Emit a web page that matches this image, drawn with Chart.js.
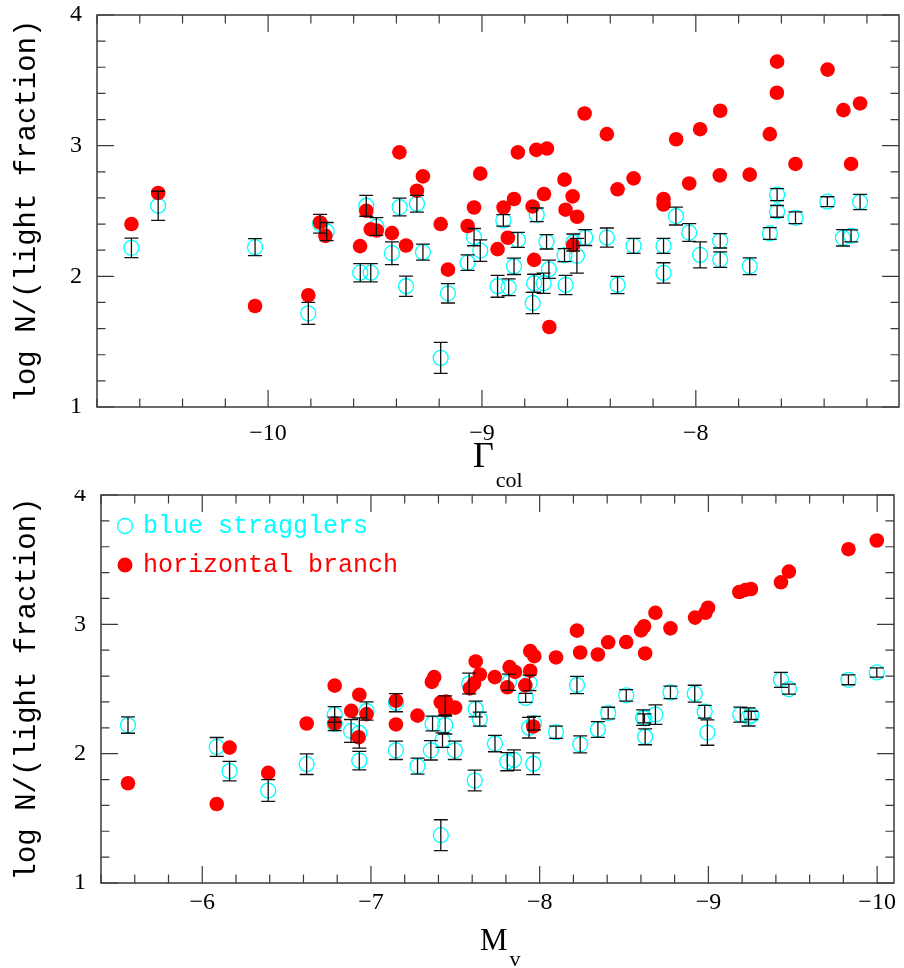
<!DOCTYPE html>
<html>
<head>
<meta charset="utf-8">
<script src="https://cdn.jsdelivr.net/npm/chart.js@4.4.1/dist/chart.umd.min.js"></script>
<style>
  body { margin: 0; background: #fff; }
  .panel { position: relative; width: 904px; }
  #topPanel { height: 490px; }
  #bottomPanel { height: 478px; }
</style>
</head>
<body>
<div class="panel" id="topPanel"><canvas id="gammaChart"></canvas></div>
<div class="panel" id="bottomPanel"><canvas id="mvChart"></canvas></div>
<script>
// ---- top panel: Gamma_col ----
const gammaBssX = [-10.639, -10.514, -10.061, -9.812, -9.757, -9.726, -9.541, -9.494, -9.569, -9.520,
  -9.421, -9.385, -9.304, -9.355, -9.276, -9.159, -9.193, -9.067, -9.037, -9.008,
  -8.927, -8.900, -8.875, -8.832, -8.850, -8.744, -8.756, -8.763, -8.712, -8.687,
  -8.698, -8.614, -8.609, -8.573, -8.556, -8.517, -8.416, -8.366, -8.291, -8.151,
  -8.151, -8.093, -8.031, -7.980, -7.886, -7.886, -7.748, -7.654, -7.620, -7.620,
  -7.534, -7.385, -7.232, -7.312, -7.274];
const gammaBssY = [2.218, 2.540, 2.223, 1.717, 2.402, 2.343, 2.540, 2.381, 2.028, 2.028,
  2.177, 2.530, 2.556, 1.924, 2.185, 1.870, 1.376, 2.105, 2.300, 2.197,
  1.924, 2.428, 1.916, 2.279, 2.077, 2.471, 1.947, 1.796, 1.947, 2.054,
  2.264, 2.162, 1.934, 2.259, 2.157, 2.297, 2.297, 1.934, 2.233, 2.233,
  2.026, 2.461, 2.335, 2.164, 2.272, 2.128, 2.077, 2.328, 2.625, 2.497,
  2.448, 2.571, 2.569, 2.295, 2.310];
const gammaBssErr = [0.075, 0.111, 0.065, 0.084, 0.072, 0.069, 0.080, 0.068, 0.070, 0.070,
  0.087, 0.068, 0.064, 0.078, 0.061, 0.074, 0.119, 0.059, 0.066, 0.082,
  0.084, 0.044, 0.064, 0.058, 0.063, 0.052, 0.069, 0.081, 0.078, 0.070,
  0.055, 0.050, 0.074, 0.065, 0.133, 0.061, 0.073, 0.066, 0.058, 0.058,
  0.078, 0.068, 0.068, 0.100, 0.055, 0.059, 0.064, 0.045, 0.046, 0.045,
  0.045, 0.038, 0.058, 0.063, 0.046];
const gammaHbX = [-10.639, -10.514, -10.061, -9.812, -9.757, -9.732, -9.541, -9.520, -9.492, -9.570,
  -9.421, -9.355, -9.386, -9.276, -9.304, -9.193, -9.159, -9.067, -9.037, -9.008,
  -8.927, -8.899, -8.879, -8.850, -8.832, -8.763, -8.756, -8.746, -8.696, -8.710,
  -8.685, -8.614, -8.609, -8.576, -8.555, -8.574, -8.520, -8.416, -8.366, -8.291,
  -8.151, -8.151, -8.092, -8.031, -7.980, -7.886, -7.888, -7.748, -7.654, -7.620,
  -7.621, -7.534, -7.384, -7.310, -7.232, -7.274];
const gammaHbY = [2.400, 2.638, 1.773, 1.855, 2.412, 2.310, 2.502, 2.359, 2.351, 2.231,
  2.331, 2.236, 2.949, 2.765, 2.655, 2.400, 2.051, 2.385, 2.527, 2.786,
  2.208, 2.527, 2.295, 2.592, 2.949, 2.535, 2.126, 2.968, 2.978, 2.630,
  1.612, 2.740, 2.510, 2.612, 2.456, 2.239, 3.246, 3.088, 2.666, 2.750,
  2.592, 2.550, 3.049, 2.711, 3.126, 3.267, 2.773, 2.778, 3.088, 3.643,
  3.405, 2.860, 3.582, 3.272, 3.323, 2.860];

// ---- bottom panel: M_V ----
const mvBssX = [-5.560, -6.086, -6.162, -6.391, -6.619, -6.785, -6.785, -6.882, -6.931, -6.931,
  -6.974, -7.148, -7.148, -7.276, -7.365, -7.355, -7.440, -7.424, -7.440, -7.497,
  -7.414, -7.582, -7.621, -7.645, -7.615, -7.735, -7.808, -7.848, -7.818, -7.917,
  -7.940, -7.937, -7.966, -7.962, -8.097, -8.221, -8.240, -8.345, -8.406, -8.513,
  -8.613, -8.621, -8.686, -8.625, -8.775, -8.919, -8.978, -8.994, -9.189, -9.238,
  -9.254, -9.430, -9.477, -9.830, -9.998];
const mvBssY = [2.221, 2.052, 1.865, 1.715, 1.919, 2.303, 2.230, 2.176, 2.160, 1.946,
  2.330, 2.026, 2.394, 1.904, 2.233, 2.026, 2.221, 2.104, 2.373, 2.026,
  1.370, 2.542, 2.345, 2.267, 1.792, 2.078, 1.938, 1.951, 2.552, 2.431,
  2.547, 2.201, 2.236, 1.922, 2.166, 2.531, 2.072, 2.187, 2.314, 2.451,
  2.278, 2.273, 2.302, 2.130, 2.474, 2.464, 2.324, 2.163, 2.302, 2.284,
  2.296, 2.571, 2.499, 2.571, 2.628];
const mvBssErr = [0.063, 0.073, 0.075, 0.084, 0.080, 0.060, 0.052, 0.088, 0.117, 0.071,
  0.070, 0.071, 0.070, 0.062, 0.057, 0.075, 0.069, 0.056, 0.074, 0.071,
  0.119, 0.080, 0.061, 0.054, 0.080, 0.063, 0.070, 0.078, 0.063, 0.035,
  0.060, 0.080, 0.053, 0.084, 0.047, 0.067, 0.066, 0.061, 0.045, 0.044,
  0.060, 0.035, 0.075, 0.061, 0.049, 0.065, 0.049, 0.098, 0.058, 0.070,
  0.032, 0.058, 0.039, 0.038, 0.036];
const mvHbX = [-5.560, -6.086, -6.162, -6.391, -6.619, -6.785, -6.785, -6.883, -6.931, -6.927,
  -6.974, -7.148, -7.148, -7.276, -7.361, -7.375, -7.414, -7.444, -7.440, -7.499,
  -7.621, -7.645, -7.611, -7.586, -7.734, -7.822, -7.854, -7.808, -7.944, -7.968,
  -7.944, -7.915, -7.962, -8.097, -8.221, -8.240, -8.345, -8.406, -8.513, -8.601,
  -8.619, -8.625, -8.686, -8.775, -8.921, -8.982, -8.998, -9.183, -9.219, -9.252,
  -9.430, -9.477, -9.830, -9.998];
const mvHbY = [1.771, 1.611, 2.047, 1.852, 2.233, 2.526, 2.233, 2.331, 2.456, 2.127,
  2.306, 2.409, 2.226, 2.294, 2.555, 2.592, 2.397, 2.402, 2.337, 2.356,
  2.713, 2.612, 2.542, 2.505, 2.592, 2.669, 2.632, 2.513, 2.793, 2.754,
  2.640, 2.528, 2.210, 2.744, 2.951, 2.782, 2.767, 2.861, 2.863, 2.953,
  2.985, 2.775, 3.089, 2.969, 3.052, 3.089, 3.128, 3.250, 3.266, 3.273,
  3.325, 3.408, 3.581, 3.648];

const yTicks = [1, 2, 3, 4];
const gammaTicks = [-10, -9, -8];
const mvTicks = [-6, -7, -8, -9, -10];
const legendLabels = ["blue stragglers", "horizontal branch"];
const yTitle = "log N/(light fraction)";

const BSS_COLOR = "#00ffff";
const HB_COLOR = "#ff0000";
const FRAME_COLOR = "#3a3a3a";

function toPoints(xs, ys) {
  return xs.map((x, i) => ({ x: x, y: ys[i] }));
}

function minus(v) {
  return v < 0 ? "\u2212" + Math.abs(v) : String(v);
}

// box with inward major/minor ticks on all four sides
const framePlugin = {
  id: "frame",
  afterDatasetsDraw(chart) {
    const { ctx, chartArea: a, scales } = chart;
    ctx.save();
    ctx.strokeStyle = FRAME_COLOR;
    ctx.lineWidth = 1.5;
    ctx.strokeRect(a.left, a.top, a.right - a.left, a.bottom - a.top);
    ctx.lineWidth = 1.2;
    ctx.beginPath();
    const xs = scales.x;
    for (let k = Math.ceil(xs.min * 5 - 1e-6); k <= Math.floor(xs.max * 5 + 1e-6); k++) {
      const px = xs.getPixelForValue(k / 5);
      const len = k % 5 === 0 ? 17 : 8.5;
      ctx.moveTo(px, a.bottom); ctx.lineTo(px, a.bottom - len);
      ctx.moveTo(px, a.top); ctx.lineTo(px, a.top + len);
    }
    const ys = scales.y;
    for (let k = Math.ceil(ys.min * 5 - 1e-6); k <= Math.floor(ys.max * 5 + 1e-6); k++) {
      const py = ys.getPixelForValue(k / 5);
      const len = k % 5 === 0 ? 17 : 8.5;
      ctx.moveTo(a.left, py); ctx.lineTo(a.left + len, py);
      ctx.moveTo(a.right, py); ctx.lineTo(a.right - len, py);
    }
    ctx.stroke();
    ctx.restore();
  }
};

// vertical error bars for the blue straggler dataset
const errorBarPlugin = {
  id: "errbars",
  afterDatasetsDraw(chart, args, opts) {
    const { ctx, scales } = chart;
    const xs = opts.x, ys = opts.y, es = opts.err;
    ctx.save();
    ctx.strokeStyle = "#111";
    ctx.lineWidth = 1.3;
    ctx.beginPath();
    xs.forEach((x, i) => {
      const px = scales.x.getPixelForValue(x);
      const lo = scales.y.getPixelForValue(ys[i] - es[i]);
      const hi = scales.y.getPixelForValue(ys[i] + es[i]);
      ctx.moveTo(px, lo); ctx.lineTo(px, hi);
      ctx.moveTo(px - 7, lo); ctx.lineTo(px + 7, lo);
      ctx.moveTo(px - 7, hi); ctx.lineTo(px + 7, hi);
    });
    ctx.stroke();
    ctx.restore();
  }
};

// x axis label with subscript
const xLabelPlugin = {
  id: "xlabel",
  afterDraw(chart, args, opts) {
    const { ctx } = chart;
    ctx.save();
    ctx.fillStyle = "#000";
    ctx.textBaseline = "alphabetic";
    ctx.textAlign = "left";
    ctx.font = opts.mainSize + "px 'Liberation Serif'";
    ctx.fillText(opts.main, opts.x, opts.y);
    const w = ctx.measureText(opts.main).width;
    ctx.font = opts.subSize + "px 'Liberation Serif'";
    ctx.fillText(opts.sub, opts.x + w + opts.gap, opts.y + opts.drop);
    ctx.restore();
  }
};

// legend inside the plot area
const legendPlugin = {
  id: "insideLegend",
  afterDraw(chart, args, opts) {
    if (!opts.show) return;
    const { ctx, chartArea: a } = chart;
    ctx.save();
    ctx.font = "25px 'Liberation Mono'";
    ctx.textBaseline = "middle";
    ctx.textAlign = "left";
    const mx = a.left + 24, tx = a.left + 42;
    let y = a.top + 31;
    ctx.strokeStyle = BSS_COLOR;
    ctx.lineWidth = 1.3;
    ctx.beginPath(); ctx.arc(mx, y, 7.5, 0, Math.PI * 2); ctx.stroke();
    ctx.fillStyle = BSS_COLOR;
    ctx.fillText(legendLabels[0], tx, y);
    y += 39;
    ctx.fillStyle = HB_COLOR;
    ctx.beginPath(); ctx.arc(mx, y, 7.5, 0, Math.PI * 2); ctx.fill();
    ctx.fillText(legendLabels[1], tx, y);
    ctx.restore();
  }
};

function makePanel(id, p) {
  return new Chart(document.getElementById(id), {
    type: "scatter",
    data: {
      datasets: [
        {
          label: legendLabels[1],
          data: toPoints(p.hbX, p.hbY),
          pointRadius: 7.3,
          pointBackgroundColor: HB_COLOR,
          pointBorderWidth: 0,
          order: 0
        },
        {
          label: legendLabels[0],
          data: toPoints(p.bssX, p.bssY),
          pointRadius: 7.5,
          pointBackgroundColor: "rgba(0,0,0,0)",
          pointBorderColor: BSS_COLOR,
          pointBorderWidth: 1.3,
          order: 1
        }
      ]
    },
    options: {
      responsive: true,
      maintainAspectRatio: false,
      animation: false,
      layout: { padding: p.padding, autoPadding: false },
      scales: {
        x: {
          type: "linear",
          min: p.xMin,
          max: p.xMax,
          reverse: p.reverse,
          grid: { display: false, drawTicks: false },
          border: { display: false },
          afterBuildTicks: (s) => { s.ticks = p.xTicks.map((v) => ({ value: v })); },
          afterFit: (s) => {
            s.height = p.xHeight;
            s.paddingLeft = 0; s.paddingRight = 0;
          },
          ticks: {
            padding: p.tickPad,
            color: "#000",
            font: { family: "'Liberation Serif'", size: 24 },
            callback: (v) => minus(v)
          }
        },
        y: {
          type: "linear",
          min: 1,
          max: 4,
          grid: { display: false, drawTicks: false },
          border: { display: false },
          afterBuildTicks: (s) => { s.ticks = yTicks.map((v) => ({ value: v })); },
          afterFit: (s) => {
            s.width = p.yWidth;
            s.paddingTop = 0; s.paddingBottom = 0;
          },
          ticks: {
            padding: 15,
            color: "#000",
            font: { family: "'Liberation Serif'", size: 24 },
            callback: (v) => String(v)
          },
          title: {
            display: true,
            text: yTitle,
            color: "#000",
            padding: { top: 10, bottom: 0 },
            font: { family: "'Liberation Mono'", size: 29 }
          }
        }
      },
      plugins: {
        legend: { display: false },
        tooltip: { enabled: false },
        errbars: { x: p.bssX, y: p.bssY, err: p.bssErr },
        xlabel: p.xLabel,
        insideLegend: { show: p.legend }
      }
    },
    plugins: [framePlugin, errorBarPlugin, xLabelPlugin, legendPlugin]
  });
}

makePanel("gammaChart", {
  bssX: gammaBssX, bssY: gammaBssY, bssErr: gammaBssErr,
  hbX: gammaHbX, hbY: gammaHbY,
  xMin: -10.8, xMax: -7.05, reverse: false, xTicks: gammaTicks,
  padding: { top: 15, right: 5, bottom: 0, left: 0 },
  xHeight: 83, yWidth: 97, tickPad: 12,
  xLabel: { main: "\u0393", sub: "col", x: 473, y: 467, mainSize: 36, subSize: 22, gap: 2, drop: 20 },
  legend: false
});

makePanel("mvChart", {
  bssX: mvBssX, bssY: mvBssY, bssErr: mvBssErr,
  hbX: mvHbX, hbY: mvHbY,
  xMin: -10.1, xMax: -5.4, reverse: true, xTicks: mvTicks,
  padding: { top: 5, right: 10, bottom: 0, left: 0 },
  xHeight: 85, yWidth: 101, tickPad: 5,
  xLabel: { main: "M", sub: "v", x: 480, y: 460, mainSize: 31, subSize: 22, gap: 2, drop: 16 },
  legend: true
});
</script>
</body>
</html>
